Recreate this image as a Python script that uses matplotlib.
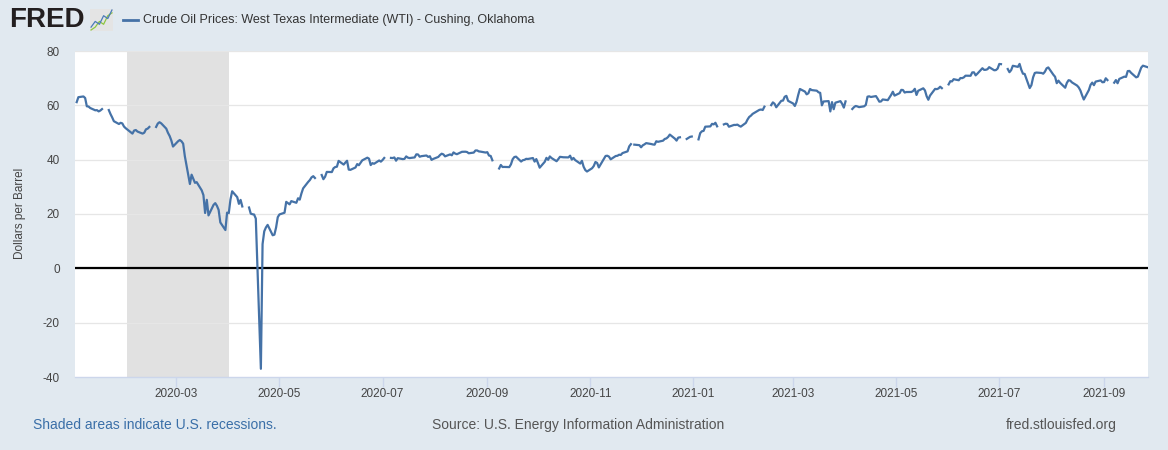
import numpy as np
import pandas as pd
import matplotlib
matplotlib.use("Agg")
import matplotlib.pyplot as plt
from matplotlib.lines import Line2D

nan = np.nan

# Precio diario WTI (dias habiles desde 2020-01-01), una fila por semana
wti = [
    nan, 61.17, 63.00,
    63.27, 62.70, 59.65, 59.56, 59.02,
    58.17, 58.23, 57.77, 58.09, 58.62,
    nan, 58.26, 56.80, 55.56, 54.16,
    53.13, 53.56, 53.35, 52.19, 51.58,
    50.09, 49.59, 50.73, 50.90, 50.34,
    49.59, 49.94, 51.17, 51.42, 52.05,
    nan, 52.05, 53.29, 53.78, 53.38,
    51.43, 49.90, 48.73, 47.09, 44.83,
    46.78, 47.23, 46.78, 45.90, 41.28,
    31.05, 34.47, 32.98, 31.47, 31.73,
    28.69, 26.95, 20.37, 25.22, 19.48,
    23.37, 24.00, 23.00, 21.50, 16.90,
    14.10, 20.51, 20.31, 25.32, 28.36,
    26.21, 23.74, 25.19, 22.78, nan,
    22.39, 20.14, 19.92, 19.80, 18.31,
    -36.98, 8.91, 13.64, 15.06, 15.99,
    12.17, 12.40, 15.03, 18.84, 19.84,
    20.47, 24.47, 23.99, 23.55, 24.74,
    24.13, 25.78, 25.29, 27.56, 29.43,
    31.82, 32.50, 33.49, 33.92, 33.25,
    nan, 34.35, 32.81, 33.71, 35.49,
    35.44, 36.83, 37.29, 37.41, 39.55,
    38.19, 38.94, 39.60, 36.34, 36.26,
    37.12, 38.38, 37.96, 38.84, 39.75,
    40.73, 40.37, 38.01, 38.72, 38.49,
    39.70, 39.27, 39.86, 40.63, nan,
    40.65, 40.60, 40.82, 39.62, 40.55,
    40.20, 40.29, 41.20, 40.75, 40.59,
    40.83, 41.96, 41.92, 41.08, 41.29,
    41.54, 41.02, 41.27, 39.92, 40.27,
    41.01, 41.70, 42.19, 41.95, 41.22,
    41.94, 41.61, 42.67, 42.24, 42.01,
    42.89, 42.89, 42.93, 42.82, 42.35,
    42.61, 43.39, 43.39, 43.04, 42.96,
    42.62, 42.76, 41.51, 41.37, 39.77,
    nan, 36.76, 38.05, 37.30, 37.33,
    37.26, 38.28, 40.16, 40.97, 41.11,
    39.31, 39.80, 39.93, 40.31, 40.25,
    40.60, 39.29, 40.22, 38.72, 37.05,
    39.22, 40.67, 39.95, 41.19, 40.60,
    39.43, 40.20, 41.04, 40.96, 40.88,
    40.83, 41.46, 40.03, 40.64, 39.85,
    38.56, 39.57, 37.39, 36.17, 35.64,
    36.84, 37.66, 39.15, 38.79, 37.14,
    40.29, 41.36, 41.45, 41.12, 40.13,
    41.34, 41.43, 41.82, 41.74, 42.42,
    43.06, 44.91, 45.71, nan, 45.53,
    45.34, 44.55, 45.28, 45.63, 46.09,
    45.76, 45.60, 45.52, 46.78, 46.57,
    46.99, 47.62, 47.82, 48.36, 49.24,
    47.74, 47.02, 48.12, 48.23, nan,
    47.62, 48.00, 48.40, 48.52, nan,
    47.47, 49.78, 50.45, 50.60, 52.14,
    52.25, 53.19, 52.99, 53.58, 52.27,
    nan, 52.98, 53.23, 53.16, 52.13,
    52.79, 52.77, 52.91, 52.48, 52.16,
    53.53, 54.77, 55.72, 56.19, 56.85,
    57.96, 58.33, 58.46, 58.28, 59.52,
    nan, 60.08, 61.09, 60.58, 59.29,
    61.67, 61.75, 63.15, 63.49, 61.66,
    60.67, 59.76, 61.28, 63.83, 66.02,
    65.05, 64.05, 64.44, 66.02, 65.61,
    65.39, 64.80, 64.60, 60.00, 61.42,
    61.56, 57.76, 61.18, 58.56, 60.97,
    61.55, 60.55, 59.16, 61.45, nan,
    58.65, 59.32, 59.77, 59.60, 59.34,
    59.64, 60.16, 63.18, 63.32, 63.07,
    63.40, 62.44, 61.35, 61.43, 62.16,
    61.91, 62.91, 63.86, 65.01, 63.58,
    64.49, 65.69, 65.63, 64.71, 64.90,
    64.92, 65.28, 66.08, 63.82, 65.37,
    66.27, 65.49, 63.36, 62.05, 63.58,
    66.05, 65.96, 66.21, 66.85, 66.32,
    nan, 67.71, 68.87, 68.81, 69.62,
    69.23, 70.05, 70.00, 70.29, 70.91,
    70.88, 72.12, 72.15, 71.04, 71.64,
    73.66, 73.06, 73.08, 73.30, 74.05,
    72.91, 72.98, 73.52, 75.23, 75.16,
    nan, 73.37, 72.20, 72.94, 74.56,
    74.16, 75.25, 73.13, 71.65, 71.56,
    66.35, 67.42, 70.30, 71.91, 72.07,
    71.91, 71.65, 72.39, 73.62, 73.95,
    71.26, 70.52, 68.15, 69.09, 68.28,
    66.48, 68.29, 69.25, 69.09, 68.44,
    67.29, 66.59, 65.46, 63.69, 62.14,
    65.63, 67.54, 68.36, 67.42, 68.74,
    69.18, 68.50, 68.56, 69.96, 69.29,
    nan, 68.34, 69.30, 68.13, 69.72,
    70.56, 70.47, 72.60, 72.67, 71.96,
    70.30, 70.56, 72.20, 73.90, 74.60,
    74.00,
]

# Recesion (sombreado)
rec_ini = "2020-02-01"
rec_fin = "2020-04-01"

y_ticks = [-40, -20, 0, 20, 40, 60, 80]
x_ticks = ["2020-03", "2020-05", "2020-07", "2020-09", "2020-11",
           "2021-01", "2021-03", "2021-05", "2021-07", "2021-09"]

# icono del logo
icono_azul = [1, 3, 2, 5, 4, 7]
icono_verde = [0, 1, 3, 2, 5, 6]

fechas = pd.bdate_range("2020-01-01", periods=len(wti))

plt.rcParams['font.family'] = ['Liberation Sans', 'DejaVu Sans']

W, H = 1168, 450
fondo = "#e1e9f0"
azul = "#4572a7"

fig = plt.figure(figsize=(W / 100, H / 100), dpi=100, facecolor=fondo)
ax = fig.add_axes([75 / W, 1 - 377 / H, 1073 / W, 326 / H])
ax.set_facecolor("white")

# Sombreado de recesion
ax.axvspan(pd.Timestamp(rec_ini), pd.Timestamp(rec_fin), color="#e1e1e1", lw=0, zorder=0)

# Lineas de cuadricula
for v in y_ticks[1:]:
    ax.axhline(v, color="#e6e6e6", lw=0.9, zorder=1)
ax.axhline(0, color="black", lw=1.6, zorder=2)

# Serie
ax.plot(fechas, wti, color=azul, lw=1.6, zorder=3)

ax.set_xlim(fechas[0], fechas[-1])
ax.set_ylim(-40, 80)

for s in ["top", "right", "left"]:
    ax.spines[s].set_visible(False)
ax.spines["bottom"].set_color("#ccd6eb")
ax.spines["bottom"].set_linewidth(1)

ax.set_yticks(y_ticks)
ax.set_yticklabels([str(v) for v in y_ticks])
ax.tick_params(axis="y", length=0, pad=11, labelsize=8.5, labelcolor="#444444")

ax.set_xticks(pd.to_datetime(x_ticks))
ax.set_xticklabels(x_ticks)
ax.tick_params(axis="x", length=7, width=1, color="#ccd6eb", pad=1,
               labelsize=8.5, labelcolor="#444444")

# Etiqueta eje Y
fig.text(20 / W, 1 - 213 / H, "Dollars per Barrel", rotation=90,
         ha="center", va="center", fontsize=8.5, color="#444444")

# Cabecera: logo y leyenda
fig.text(9 / W, 1 - 20 / H, "FRED", fontsize=20, fontweight="bold",
         color="#231f20", ha="left", va="center")
ic = fig.add_axes([90 / W, 1 - 31 / H, 23 / W, 22 / H])
ic.set_facecolor("#e4e4e4")
ic.plot(icono_verde, color="#8dc63f", lw=0.9)
ic.plot(icono_azul, color="#4b7bb8", lw=0.9)
ic.set_xticks([])
ic.set_yticks([])
for s in ic.spines.values():
    s.set_visible(False)

fig.add_artist(Line2D([123 / W, 138 / W], [1 - 20 / H, 1 - 20 / H],
                      color=azul, lw=2))
fig.text(143 / W, 1 - 20 / H,
         "Crude Oil Prices: West Texas Intermediate (WTI) - Cushing, Oklahoma",
         fontsize=9, color="#333333", ha="left", va="center")

# Pie
fig.text(33 / W, 1 - 425 / H, "Shaded areas indicate U.S. recessions.",
         fontsize=10, color="#3a6fa8", ha="left", va="center")
fig.text(432 / W, 1 - 425 / H, "Source: U.S. Energy Information Administration",
         fontsize=10, color="#555555", ha="left", va="center")
fig.text(1117 / W, 1 - 425 / H, "fred.stlouisfed.org",
         fontsize=10, color="#555555", ha="right", va="center")

fig.savefig("out.png", dpi=100, facecolor=fondo)
